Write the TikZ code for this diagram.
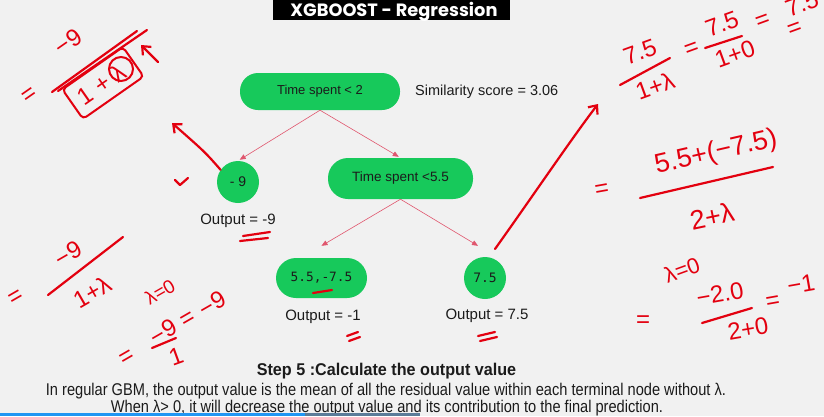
\documentclass[tikz,border=0pt]{standalone}
\usepackage{fontspec}
\setmainfont{Liberation Sans}
\newfontfamily\titlefont{Poppins}
\newfontfamily\condfont[FakeStretch=0.86]{Liberation Sans}
\newfontfamily\condboldfont[FakeStretch=0.95]{Liberation Sans}
\newfontfamily\codefont{DejaVu Sans Mono}
\usetikzlibrary{arrows.meta,calc}
\definecolor{bg}{HTML}{F1F1F1}
\definecolor{leafgreen}{HTML}{17C95B}
\definecolor{edgered}{HTML}{E0566E}
\definecolor{inkred}{HTML}{E3000F}
\definecolor{txt}{HTML}{1B1B1B}
\definecolor{barblue}{HTML}{2196F3}
\definecolor{bargrey}{HTML}{5B7C99}
\begin{document}
\begin{tikzpicture}[x=1pt,y=-1pt,
  pill/.style={fill=leafgreen, text=txt, inner sep=0pt, rounded corners=#1},
  pill/.default=18pt,
  leafc/.style={circle, fill=leafgreen, text=txt, inner sep=0pt, minimum size=42pt},
  edge/.style={draw=edgered, line width=0.6pt, -{Triangle[length=6pt,width=5pt]}},
  lbl/.style={text=txt, inner sep=0pt, font=\fontsize{15}{15}\selectfont},
  hw/.style={text=inkred, inner sep=0pt, font=\fontsize{24}{24}\selectfont},
  ink/.style={draw=inkred, line width=2.2pt, line cap=round, line join=round},
  inkarrow/.style={ink, -{Straight Barb[length=7pt,width=12pt]}}]
\useasboundingbox (0,0) rectangle (824,416);
\fill[bg] (0,0) rectangle (824,416);
% title
\fill[black] (273,0) rectangle (510,20);
\node[text=white, inner sep=0pt, anchor=base, font=\titlefont\bfseries\fontsize{17.8}{17.8}\selectfont] (title) at (394,16.5) {XGBOOST - Regression};
% tree nodes
\node[pill, minimum width=160pt, minimum height=37pt, font=\fontsize{13}{13}\selectfont] (root) at (320,91.5) {Time spent < 2};
\node[lbl, anchor=west, font=\fontsize{14.5}{14.5}\selectfont] (sim) at (415,91.5) {Similarity score = 3.06};
\node[leafc, font=\fontsize{14}{14}\selectfont] (c9) at (238,182) {- 9};
\node[pill=20pt, minimum width=145pt, minimum height=41pt, font=\fontsize{13.5}{13.5}\selectfont] (n5) at (400.5,178.5) {Time spent <5.5};
\node[pill=20pt, minimum width=91pt, minimum height=40pt, font=\codefont\fontsize{12.8}{12.8}\selectfont] (l1) at (321.5,278) {5.5,-7.5};
\node[leafc, font=\codefont\fontsize{13}{13}\selectfont] (l2) at (485,278) {7.5};
\node[lbl] (o1) at (238,221) {Output = -9};
\node[lbl] (o2) at (323,317) {Output = -1};
\node[lbl] (o3) at (487,316) {Output = 7.5};
% edges
\draw[edge, shorten >=2pt] (root.south) -- (c9.north);
\draw[edge, shorten >=2pt] (root.south) -- (n5.north);
\draw[edge] (n5.south) -- ([yshift=12pt]l1.north);
\draw[edge] (n5.south) -- ([xshift=-7pt,yshift=11pt]l2.north);
% step 5 text
\node[anchor=base, inner sep=0pt, text=txt, font=\condboldfont\bfseries\fontsize{17}{17}\selectfont] (step) at (386.5,375) {Step 5 :Calculate the output value};
\node[anchor=base, inner sep=0pt, text=txt, font=\condfont\fontsize{17}{17}\selectfont] (line1) at (386,395) {In regular GBM, the output value is the mean of all the residual value within each terminal node without λ.};
\node[anchor=base, inner sep=0pt, text=txt, font=\condfont\fontsize{17}{17}\selectfont] (line2) at (387,412) {When λ> 0, it will decrease the output value and its contribution to the final prediction.};
% progress bar
\fill[barblue] (0,413) rectangle (305,416);
\fill[bargrey] (305,413) rectangle (420,416);
% ---- handwritten annotations ----
% top left
\node[hw, rotate=35] (a1) at (30,96) {=};
\node[hw, rotate=35] (a2) at (68,42) {−9};
\draw[ink] (52,92) -- (137,31);
\draw[ink] (58,91) -- (147,30);
\node[hw, rotate=35, draw=inkred, line width=2pt, rounded corners=4pt, minimum width=74pt, minimum height=36pt] (a3) at (103,83) {1 + λ\,};
\node[draw=inkred, line width=2pt, circle, minimum size=24pt, inner sep=0pt] (a4) at (121,69) {};
\coordinate (a5) at (158,62);
\draw[inkarrow] (a5) -- (141,45);
\coordinate (a6) at (172,123);
\draw[inkarrow] (c9.145) .. controls (205,152) .. (a6);
\draw[ink] (175,180) -- (180,185) -- (188,178);
\draw[ink] (243,236) -- (270,232);
\draw[ink] (240,241) -- (268,238);
% left middle
\node[hw, rotate=30] (b1) at (16,298) {=};
\node[hw, rotate=30] (b2) at (68,254) {−9};
\draw[ink] (48,295) -- (123,237);
\node[hw, rotate=30] (b3) at (92,292) {1+λ};
\node[hw, rotate=30, font=\fontsize{19}{19}\selectfont] (b4) at (160,292) {λ=0};
\node[hw, rotate=30] (b5) at (127,358) {=};
\node[hw, rotate=30] (b6) at (163,332) {−9};
\draw[ink] (152,348) -- (176,338);
\node[hw, rotate=20] (b7) at (176,356) {1};
\node[hw, rotate=30] (b8) at (188,320) {=};
\node[hw, rotate=30] (b9) at (212,304) {−9};
% tree marks
\draw[ink] (313,293) -- (332,290);
\draw[ink] (347,336) -- (358,332);
\draw[ink] (349,341) -- (360,337);
\draw[ink] (478,336) -- (495,332);
\draw[ink] (480,341) -- (497,337);
% arrow to top right
\coordinate (c1) at (495,249);
\coordinate (c2) at (598,104);
\draw[inkarrow] (c1) .. controls (530,200) and (572,138) .. (c2);
% top right
\node[hw, rotate=20] (d1) at (640,52) {7.5};
\draw[ink] (620,85) -- (670,58);
\node[hw, rotate=20] (d2) at (655,86) {1+λ};
\node[hw, rotate=20] (d3) at (692,50) {=};
\node[hw, rotate=20] (d4) at (722,24) {7.5};
\draw[ink] (705,48) -- (742,36);
\node[hw, rotate=20] (d5) at (735,54) {1+0};
\node[hw, rotate=20] (d6) at (763,22) {=};
\node[hw, rotate=20] (d7) at (802,4) {7.5};
\node[hw, rotate=20] (d8) at (795,30) {=};
% right middle
\node[hw, rotate=10] (e1) at (602,190) {=};
\node[hw, rotate=13, font=\fontsize{27}{27}\selectfont] (e2) at (716,153) {5.5+(−7.5)};
\draw[ink] (640,198) -- (773,167);
\node[hw, rotate=12, font=\fontsize{27}{27}\selectfont] (e3) at (712,216) {2+λ};
\node[hw, rotate=20, font=\fontsize{22}{22}\selectfont] (e4) at (682,270) {λ=0};
\node[hw] (e5) at (643,322) {=};
\node[hw, rotate=10] (e6) at (720,294) {−2.0};
\draw[ink] (702,323) -- (752,308);
\node[hw, rotate=10] (e7) at (748,329) {2+0};
\node[hw, rotate=10] (e8) at (773,302) {=};
\node[hw, rotate=10] (e9) at (801,284) {−1};
\end{tikzpicture}
\end{document}
